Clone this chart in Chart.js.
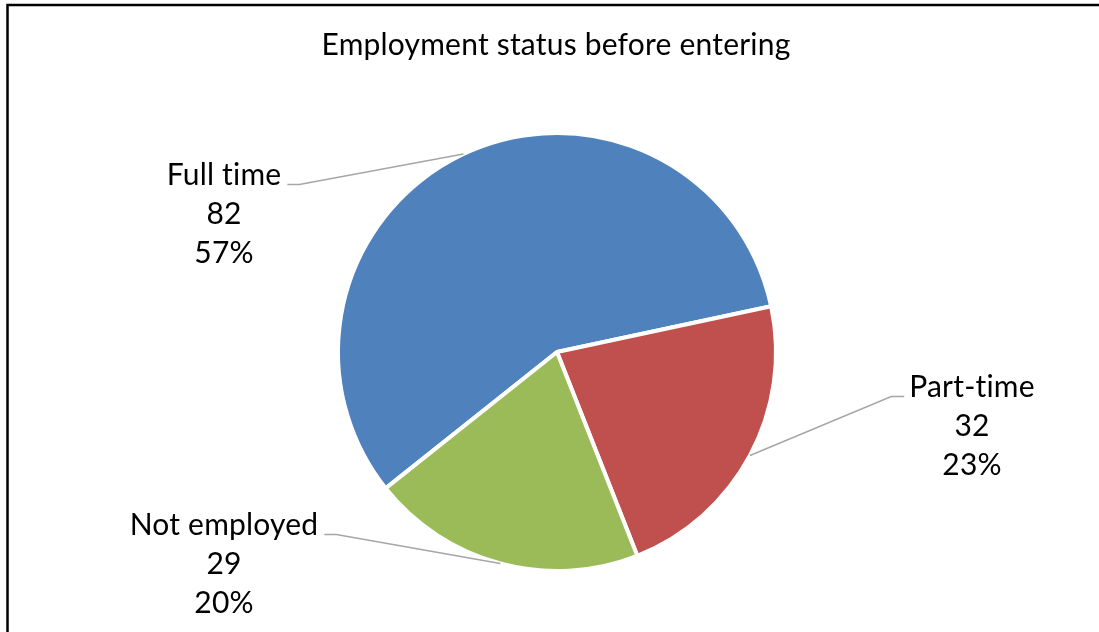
<!DOCTYPE html>
<html><head><meta charset="utf-8">
<script src="https://cdn.jsdelivr.net/npm/chart.js@4"></script>
<style>html,body{margin:0;padding:0;background:#fff}#wrap{width:1099px;height:632px;position:relative}</style>
</head><body><div id="wrap"><canvas id="c"></canvas></div>
<script>
const categories = ["Full time", "Part-time", "Not employed"];
const counts = [82, 32, 29];
const percentLabels = ["57%", "23%", "20%"];
const sliceColors = ["#4F81BD", "#C0504D", "#9BBB59"];
const chartTitle = "Employment status before entering";

const FONT = "Lato, 'Liberation Sans', sans-serif";
const FONT_SIZE = 30;
const LINE_H = 39;
// label placement (center x, first-line baseline y, side of pie)
const labelLayout = [
  { x: 224, y: 185, side: "left" },
  { x: 972, y: 397, side: "right" },
  { x: 224, y: 535, side: "left" }
];

const decor = {
  id: "decor",
  afterDraw(chart) {
    const ctx = chart.ctx;
    ctx.save();
    // frame
    ctx.strokeStyle = "#000";
    ctx.lineWidth = 2.5;
    ctx.strokeRect(7.5, 5, 1200, 800);
    // title
    ctx.fillStyle = "#000";
    ctx.font = FONT_SIZE + "px " + FONT;
    if ("letterSpacing" in ctx) ctx.letterSpacing = "0.2px";
    ctx.textAlign = "center";
    ctx.textBaseline = "alphabetic";
    ctx.fillText(chartTitle, 556, 55);
    // labels + leaders
    const meta = chart.getDatasetMeta(0);
    meta.data.forEach((arc, i) => {
      const p = arc.getProps(["x", "y", "startAngle", "endAngle", "outerRadius"], true);
      const mid = (p.startAngle + p.endAngle) / 2;
      const ex = p.x + Math.cos(mid) * p.outerRadius;
      const ey = p.y + Math.sin(mid) * p.outerRadius;
      const L = labelLayout[i];
      const lines = [categories[i], String(counts[i]), percentLabels[i]];
      ctx.fillStyle = "#000";
      ctx.textAlign = "center";
      lines.forEach((t, k) => ctx.fillText(t, L.x, L.y + k * LINE_H));
      const w = ctx.measureText(categories[i]).width;
      let sx, kx;
      if (L.side === "left") { sx = L.x + w / 2 + 6; kx = sx + 12; }
      else { sx = L.x - w / 2 - 5; kx = sx - 13; }
      const ly = L.y - 0.5;
      ctx.strokeStyle = "#A6A6A6";
      ctx.lineWidth = 1.5;
      ctx.beginPath();
      ctx.moveTo(sx, ly);
      ctx.lineTo(kx, ly);
      ctx.lineTo(ex, ey);
      ctx.stroke();
    });
    ctx.restore();
  }
};

new Chart(document.getElementById("c"), {
  type: "pie",
  data: {
    labels: categories,
    datasets: [{
      data: counts,
      backgroundColor: sliceColors,
      borderColor: "#FFFFFF",
      borderWidth: 4,
      radius: 219,
      rotation: 231.5
    }]
  },
  options: {
    responsive: true,
    maintainAspectRatio: false,
    animation: false,
    events: [],
    layout: { padding: { left: 115, right: 100, top: 122, bottom: 50 } },
    plugins: { legend: { display: false }, tooltip: { enabled: false }, title: { display: false } }
  },
  plugins: [decor]
});
</script>
</body></html>
